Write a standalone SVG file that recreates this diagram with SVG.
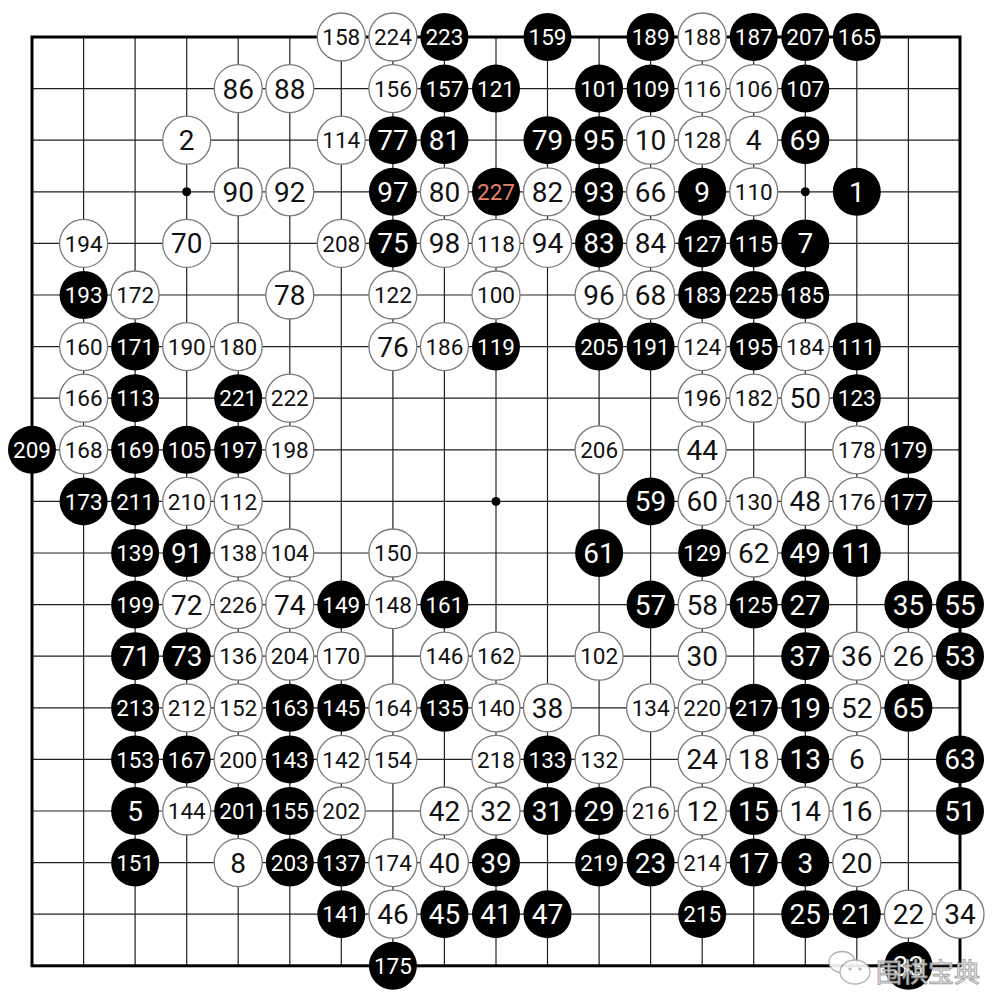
<svg xmlns="http://www.w3.org/2000/svg" width="999" height="996" viewBox="0 0 999 996">
<style>
.grid{stroke:#222;stroke-width:1.2;fill:none}
.frame{stroke:#000;stroke-width:3;fill:none}
.star{fill:#000}
g.b circle{fill:#000}
g.w circle{fill:#fff;stroke:#7a7a7a;stroke-width:1.3}
text{font-family:Roboto,"Liberation Sans",sans-serif;text-anchor:middle;font-size:28px}
g.b text{fill:#fff}
g.w text{fill:#111}
text.s{font-size:22.5px}
g.b text.red{fill:#e8806a}
.wm{font-family:"Noto Sans CJK SC","Noto Sans CJK TC",sans-serif;font-size:26px;fill:#fff;stroke:#999;stroke-width:1;text-anchor:start}
.bub{fill:#fff;stroke:#aaa;stroke-width:1.3}
</style>
<rect width="999" height="996" fill="#fff"/>
<g id="connectors">
<path class="grid" d="M83.6 37V965.8M135.1 37V965.8M186.7 37V965.8M238.2 37V965.8M289.8 37V965.8M341.3 37V965.8M392.9 37V965.8M444.4 37V965.8M496 37V965.8M547.5 37V965.8M599.1 37V965.8M650.6 37V965.8M702.2 37V965.8M753.7 37V965.8M805.3 37V965.8M856.8 37V965.8M908.4 37V965.8M32 88.6H960M32 140.2H960M32 191.8H960M32 243.4H960M32 295H960M32 346.6H960M32 398.2H960M32 449.8H960M32 501.4H960M32 553H960M32 604.6H960M32 656.2H960M32 707.8H960M32 759.4H960M32 811H960M32 862.6H960M32 914.2H960"/>
<rect class="frame" x="32" y="37" width="928" height="928.8"/>
<circle class="star" cx="186.7" cy="191.8" r="4.5"/>
<circle class="star" cx="805.3" cy="191.8" r="4.5"/>
<circle class="star" cx="496" cy="501.4" r="4.5"/>
</g>
<g id="stones">
<g id="m158" class="w" transform="translate(341.3,37)"><circle r="24"/><text class="s" dy="0.36em">158</text></g>
<g id="m224" class="w" transform="translate(392.9,37)"><circle r="24"/><text class="s" dy="0.36em">224</text></g>
<g id="m223" class="b" transform="translate(444.4,37)"><circle r="24"/><text class="s" dy="0.36em">223</text></g>
<g id="m159" class="b" transform="translate(547.5,37)"><circle r="24"/><text class="s" dy="0.36em">159</text></g>
<g id="m189" class="b" transform="translate(650.6,37)"><circle r="24"/><text class="s" dy="0.36em">189</text></g>
<g id="m188" class="w" transform="translate(702.2,37)"><circle r="24"/><text class="s" dy="0.36em">188</text></g>
<g id="m187" class="b" transform="translate(753.7,37)"><circle r="24"/><text class="s" dy="0.36em">187</text></g>
<g id="m207" class="b" transform="translate(805.3,37)"><circle r="24"/><text class="s" dy="0.36em">207</text></g>
<g id="m165" class="b" transform="translate(856.8,37)"><circle r="24"/><text class="s" dy="0.36em">165</text></g>
<g id="m86" class="w" transform="translate(238.2,88.6)"><circle r="24"/><text dy="0.36em">86</text></g>
<g id="m88" class="w" transform="translate(289.8,88.6)"><circle r="24"/><text dy="0.36em">88</text></g>
<g id="m156" class="w" transform="translate(392.9,88.6)"><circle r="24"/><text class="s" dy="0.36em">156</text></g>
<g id="m157" class="b" transform="translate(444.4,88.6)"><circle r="24"/><text class="s" dy="0.36em">157</text></g>
<g id="m121" class="b" transform="translate(496,88.6)"><circle r="24"/><text class="s" dy="0.36em">121</text></g>
<g id="m101" class="b" transform="translate(599.1,88.6)"><circle r="24"/><text class="s" dy="0.36em">101</text></g>
<g id="m109" class="b" transform="translate(650.6,88.6)"><circle r="24"/><text class="s" dy="0.36em">109</text></g>
<g id="m116" class="w" transform="translate(702.2,88.6)"><circle r="24"/><text class="s" dy="0.36em">116</text></g>
<g id="m106" class="w" transform="translate(753.7,88.6)"><circle r="24"/><text class="s" dy="0.36em">106</text></g>
<g id="m107" class="b" transform="translate(805.3,88.6)"><circle r="24"/><text class="s" dy="0.36em">107</text></g>
<g id="m2" class="w" transform="translate(186.7,140.2)"><circle r="24"/><text dy="0.36em">2</text></g>
<g id="m114" class="w" transform="translate(341.3,140.2)"><circle r="24"/><text class="s" dy="0.36em">114</text></g>
<g id="m77" class="b" transform="translate(392.9,140.2)"><circle r="24"/><text dy="0.36em">77</text></g>
<g id="m81" class="b" transform="translate(444.4,140.2)"><circle r="24"/><text dy="0.36em">81</text></g>
<g id="m79" class="b" transform="translate(547.5,140.2)"><circle r="24"/><text dy="0.36em">79</text></g>
<g id="m95" class="b" transform="translate(599.1,140.2)"><circle r="24"/><text dy="0.36em">95</text></g>
<g id="m10" class="w" transform="translate(650.6,140.2)"><circle r="24"/><text dy="0.36em">10</text></g>
<g id="m128" class="w" transform="translate(702.2,140.2)"><circle r="24"/><text class="s" dy="0.36em">128</text></g>
<g id="m4" class="w" transform="translate(753.7,140.2)"><circle r="24"/><text dy="0.36em">4</text></g>
<g id="m69" class="b" transform="translate(805.3,140.2)"><circle r="24"/><text dy="0.36em">69</text></g>
<g id="m90" class="w" transform="translate(238.2,191.8)"><circle r="24"/><text dy="0.36em">90</text></g>
<g id="m92" class="w" transform="translate(289.8,191.8)"><circle r="24"/><text dy="0.36em">92</text></g>
<g id="m97" class="b" transform="translate(392.9,191.8)"><circle r="24"/><text dy="0.36em">97</text></g>
<g id="m80" class="w" transform="translate(444.4,191.8)"><circle r="24"/><text dy="0.36em">80</text></g>
<g id="m227" class="b" transform="translate(496,191.8)"><circle r="24"/><text class="s red" dy="0.36em">227</text></g>
<g id="m82" class="w" transform="translate(547.5,191.8)"><circle r="24"/><text dy="0.36em">82</text></g>
<g id="m93" class="b" transform="translate(599.1,191.8)"><circle r="24"/><text dy="0.36em">93</text></g>
<g id="m66" class="w" transform="translate(650.6,191.8)"><circle r="24"/><text dy="0.36em">66</text></g>
<g id="m9" class="b" transform="translate(702.2,191.8)"><circle r="24"/><text dy="0.36em">9</text></g>
<g id="m110" class="w" transform="translate(753.7,191.8)"><circle r="24"/><text class="s" dy="0.36em">110</text></g>
<g id="m1" class="b" transform="translate(856.8,191.8)"><circle r="24"/><text dy="0.36em">1</text></g>
<g id="m194" class="w" transform="translate(83.6,243.4)"><circle r="24"/><text class="s" dy="0.36em">194</text></g>
<g id="m70" class="w" transform="translate(186.7,243.4)"><circle r="24"/><text dy="0.36em">70</text></g>
<g id="m208" class="w" transform="translate(341.3,243.4)"><circle r="24"/><text class="s" dy="0.36em">208</text></g>
<g id="m75" class="b" transform="translate(392.9,243.4)"><circle r="24"/><text dy="0.36em">75</text></g>
<g id="m98" class="w" transform="translate(444.4,243.4)"><circle r="24"/><text dy="0.36em">98</text></g>
<g id="m118" class="w" transform="translate(496,243.4)"><circle r="24"/><text class="s" dy="0.36em">118</text></g>
<g id="m94" class="w" transform="translate(547.5,243.4)"><circle r="24"/><text dy="0.36em">94</text></g>
<g id="m83" class="b" transform="translate(599.1,243.4)"><circle r="24"/><text dy="0.36em">83</text></g>
<g id="m84" class="w" transform="translate(650.6,243.4)"><circle r="24"/><text dy="0.36em">84</text></g>
<g id="m127" class="b" transform="translate(702.2,243.4)"><circle r="24"/><text class="s" dy="0.36em">127</text></g>
<g id="m115" class="b" transform="translate(753.7,243.4)"><circle r="24"/><text class="s" dy="0.36em">115</text></g>
<g id="m7" class="b" transform="translate(805.3,243.4)"><circle r="24"/><text dy="0.36em">7</text></g>
<g id="m193" class="b" transform="translate(83.6,295)"><circle r="24"/><text class="s" dy="0.36em">193</text></g>
<g id="m172" class="w" transform="translate(135.1,295)"><circle r="24"/><text class="s" dy="0.36em">172</text></g>
<g id="m78" class="w" transform="translate(289.8,295)"><circle r="24"/><text dy="0.36em">78</text></g>
<g id="m122" class="w" transform="translate(392.9,295)"><circle r="24"/><text class="s" dy="0.36em">122</text></g>
<g id="m100" class="w" transform="translate(496,295)"><circle r="24"/><text class="s" dy="0.36em">100</text></g>
<g id="m96" class="w" transform="translate(599.1,295)"><circle r="24"/><text dy="0.36em">96</text></g>
<g id="m68" class="w" transform="translate(650.6,295)"><circle r="24"/><text dy="0.36em">68</text></g>
<g id="m183" class="b" transform="translate(702.2,295)"><circle r="24"/><text class="s" dy="0.36em">183</text></g>
<g id="m225" class="b" transform="translate(753.7,295)"><circle r="24"/><text class="s" dy="0.36em">225</text></g>
<g id="m185" class="b" transform="translate(805.3,295)"><circle r="24"/><text class="s" dy="0.36em">185</text></g>
<g id="m160" class="w" transform="translate(83.6,346.6)"><circle r="24"/><text class="s" dy="0.36em">160</text></g>
<g id="m171" class="b" transform="translate(135.1,346.6)"><circle r="24"/><text class="s" dy="0.36em">171</text></g>
<g id="m190" class="w" transform="translate(186.7,346.6)"><circle r="24"/><text class="s" dy="0.36em">190</text></g>
<g id="m180" class="w" transform="translate(238.2,346.6)"><circle r="24"/><text class="s" dy="0.36em">180</text></g>
<g id="m76" class="w" transform="translate(392.9,346.6)"><circle r="24"/><text dy="0.36em">76</text></g>
<g id="m186" class="w" transform="translate(444.4,346.6)"><circle r="24"/><text class="s" dy="0.36em">186</text></g>
<g id="m119" class="b" transform="translate(496,346.6)"><circle r="24"/><text class="s" dy="0.36em">119</text></g>
<g id="m205" class="b" transform="translate(599.1,346.6)"><circle r="24"/><text class="s" dy="0.36em">205</text></g>
<g id="m191" class="b" transform="translate(650.6,346.6)"><circle r="24"/><text class="s" dy="0.36em">191</text></g>
<g id="m124" class="w" transform="translate(702.2,346.6)"><circle r="24"/><text class="s" dy="0.36em">124</text></g>
<g id="m195" class="b" transform="translate(753.7,346.6)"><circle r="24"/><text class="s" dy="0.36em">195</text></g>
<g id="m184" class="w" transform="translate(805.3,346.6)"><circle r="24"/><text class="s" dy="0.36em">184</text></g>
<g id="m111" class="b" transform="translate(856.8,346.6)"><circle r="24"/><text class="s" dy="0.36em">111</text></g>
<g id="m166" class="w" transform="translate(83.6,398.2)"><circle r="24"/><text class="s" dy="0.36em">166</text></g>
<g id="m113" class="b" transform="translate(135.1,398.2)"><circle r="24"/><text class="s" dy="0.36em">113</text></g>
<g id="m221" class="b" transform="translate(238.2,398.2)"><circle r="24"/><text class="s" dy="0.36em">221</text></g>
<g id="m222" class="w" transform="translate(289.8,398.2)"><circle r="24"/><text class="s" dy="0.36em">222</text></g>
<g id="m196" class="w" transform="translate(702.2,398.2)"><circle r="24"/><text class="s" dy="0.36em">196</text></g>
<g id="m182" class="w" transform="translate(753.7,398.2)"><circle r="24"/><text class="s" dy="0.36em">182</text></g>
<g id="m50" class="w" transform="translate(805.3,398.2)"><circle r="24"/><text dy="0.36em">50</text></g>
<g id="m123" class="b" transform="translate(856.8,398.2)"><circle r="24"/><text class="s" dy="0.36em">123</text></g>
<g id="m209" class="b" transform="translate(32,449.8)"><circle r="24"/><text class="s" dy="0.36em">209</text></g>
<g id="m168" class="w" transform="translate(83.6,449.8)"><circle r="24"/><text class="s" dy="0.36em">168</text></g>
<g id="m169" class="b" transform="translate(135.1,449.8)"><circle r="24"/><text class="s" dy="0.36em">169</text></g>
<g id="m105" class="b" transform="translate(186.7,449.8)"><circle r="24"/><text class="s" dy="0.36em">105</text></g>
<g id="m197" class="b" transform="translate(238.2,449.8)"><circle r="24"/><text class="s" dy="0.36em">197</text></g>
<g id="m198" class="w" transform="translate(289.8,449.8)"><circle r="24"/><text class="s" dy="0.36em">198</text></g>
<g id="m206" class="w" transform="translate(599.1,449.8)"><circle r="24"/><text class="s" dy="0.36em">206</text></g>
<g id="m44" class="w" transform="translate(702.2,449.8)"><circle r="24"/><text dy="0.36em">44</text></g>
<g id="m178" class="w" transform="translate(856.8,449.8)"><circle r="24"/><text class="s" dy="0.36em">178</text></g>
<g id="m179" class="b" transform="translate(908.4,449.8)"><circle r="24"/><text class="s" dy="0.36em">179</text></g>
<g id="m173" class="b" transform="translate(83.6,501.4)"><circle r="24"/><text class="s" dy="0.36em">173</text></g>
<g id="m211" class="b" transform="translate(135.1,501.4)"><circle r="24"/><text class="s" dy="0.36em">211</text></g>
<g id="m210" class="w" transform="translate(186.7,501.4)"><circle r="24"/><text class="s" dy="0.36em">210</text></g>
<g id="m112" class="w" transform="translate(238.2,501.4)"><circle r="24"/><text class="s" dy="0.36em">112</text></g>
<g id="m59" class="b" transform="translate(650.6,501.4)"><circle r="24"/><text dy="0.36em">59</text></g>
<g id="m60" class="w" transform="translate(702.2,501.4)"><circle r="24"/><text dy="0.36em">60</text></g>
<g id="m130" class="w" transform="translate(753.7,501.4)"><circle r="24"/><text class="s" dy="0.36em">130</text></g>
<g id="m48" class="w" transform="translate(805.3,501.4)"><circle r="24"/><text dy="0.36em">48</text></g>
<g id="m176" class="w" transform="translate(856.8,501.4)"><circle r="24"/><text class="s" dy="0.36em">176</text></g>
<g id="m177" class="b" transform="translate(908.4,501.4)"><circle r="24"/><text class="s" dy="0.36em">177</text></g>
<g id="m139" class="b" transform="translate(135.1,553)"><circle r="24"/><text class="s" dy="0.36em">139</text></g>
<g id="m91" class="b" transform="translate(186.7,553)"><circle r="24"/><text dy="0.36em">91</text></g>
<g id="m138" class="w" transform="translate(238.2,553)"><circle r="24"/><text class="s" dy="0.36em">138</text></g>
<g id="m104" class="w" transform="translate(289.8,553)"><circle r="24"/><text class="s" dy="0.36em">104</text></g>
<g id="m150" class="w" transform="translate(392.9,553)"><circle r="24"/><text class="s" dy="0.36em">150</text></g>
<g id="m61" class="b" transform="translate(599.1,553)"><circle r="24"/><text dy="0.36em">61</text></g>
<g id="m129" class="b" transform="translate(702.2,553)"><circle r="24"/><text class="s" dy="0.36em">129</text></g>
<g id="m62" class="w" transform="translate(753.7,553)"><circle r="24"/><text dy="0.36em">62</text></g>
<g id="m49" class="b" transform="translate(805.3,553)"><circle r="24"/><text dy="0.36em">49</text></g>
<g id="m11" class="b" transform="translate(856.8,553)"><circle r="24"/><text dy="0.36em">11</text></g>
<g id="m199" class="b" transform="translate(135.1,604.6)"><circle r="24"/><text class="s" dy="0.36em">199</text></g>
<g id="m72" class="w" transform="translate(186.7,604.6)"><circle r="24"/><text dy="0.36em">72</text></g>
<g id="m226" class="w" transform="translate(238.2,604.6)"><circle r="24"/><text class="s" dy="0.36em">226</text></g>
<g id="m74" class="w" transform="translate(289.8,604.6)"><circle r="24"/><text dy="0.36em">74</text></g>
<g id="m149" class="b" transform="translate(341.3,604.6)"><circle r="24"/><text class="s" dy="0.36em">149</text></g>
<g id="m148" class="w" transform="translate(392.9,604.6)"><circle r="24"/><text class="s" dy="0.36em">148</text></g>
<g id="m161" class="b" transform="translate(444.4,604.6)"><circle r="24"/><text class="s" dy="0.36em">161</text></g>
<g id="m57" class="b" transform="translate(650.6,604.6)"><circle r="24"/><text dy="0.36em">57</text></g>
<g id="m58" class="w" transform="translate(702.2,604.6)"><circle r="24"/><text dy="0.36em">58</text></g>
<g id="m125" class="b" transform="translate(753.7,604.6)"><circle r="24"/><text class="s" dy="0.36em">125</text></g>
<g id="m27" class="b" transform="translate(805.3,604.6)"><circle r="24"/><text dy="0.36em">27</text></g>
<g id="m35" class="b" transform="translate(908.4,604.6)"><circle r="24"/><text dy="0.36em">35</text></g>
<g id="m55" class="b" transform="translate(960,604.6)"><circle r="24"/><text dy="0.36em">55</text></g>
<g id="m71" class="b" transform="translate(135.1,656.2)"><circle r="24"/><text dy="0.36em">71</text></g>
<g id="m73" class="b" transform="translate(186.7,656.2)"><circle r="24"/><text dy="0.36em">73</text></g>
<g id="m136" class="w" transform="translate(238.2,656.2)"><circle r="24"/><text class="s" dy="0.36em">136</text></g>
<g id="m204" class="w" transform="translate(289.8,656.2)"><circle r="24"/><text class="s" dy="0.36em">204</text></g>
<g id="m170" class="w" transform="translate(341.3,656.2)"><circle r="24"/><text class="s" dy="0.36em">170</text></g>
<g id="m146" class="w" transform="translate(444.4,656.2)"><circle r="24"/><text class="s" dy="0.36em">146</text></g>
<g id="m162" class="w" transform="translate(496,656.2)"><circle r="24"/><text class="s" dy="0.36em">162</text></g>
<g id="m102" class="w" transform="translate(599.1,656.2)"><circle r="24"/><text class="s" dy="0.36em">102</text></g>
<g id="m30" class="w" transform="translate(702.2,656.2)"><circle r="24"/><text dy="0.36em">30</text></g>
<g id="m37" class="b" transform="translate(805.3,656.2)"><circle r="24"/><text dy="0.36em">37</text></g>
<g id="m36" class="w" transform="translate(856.8,656.2)"><circle r="24"/><text dy="0.36em">36</text></g>
<g id="m26" class="w" transform="translate(908.4,656.2)"><circle r="24"/><text dy="0.36em">26</text></g>
<g id="m53" class="b" transform="translate(960,656.2)"><circle r="24"/><text dy="0.36em">53</text></g>
<g id="m213" class="b" transform="translate(135.1,707.8)"><circle r="24"/><text class="s" dy="0.36em">213</text></g>
<g id="m212" class="w" transform="translate(186.7,707.8)"><circle r="24"/><text class="s" dy="0.36em">212</text></g>
<g id="m152" class="w" transform="translate(238.2,707.8)"><circle r="24"/><text class="s" dy="0.36em">152</text></g>
<g id="m163" class="b" transform="translate(289.8,707.8)"><circle r="24"/><text class="s" dy="0.36em">163</text></g>
<g id="m145" class="b" transform="translate(341.3,707.8)"><circle r="24"/><text class="s" dy="0.36em">145</text></g>
<g id="m164" class="w" transform="translate(392.9,707.8)"><circle r="24"/><text class="s" dy="0.36em">164</text></g>
<g id="m135" class="b" transform="translate(444.4,707.8)"><circle r="24"/><text class="s" dy="0.36em">135</text></g>
<g id="m140" class="w" transform="translate(496,707.8)"><circle r="24"/><text class="s" dy="0.36em">140</text></g>
<g id="m38" class="w" transform="translate(547.5,707.8)"><circle r="24"/><text dy="0.36em">38</text></g>
<g id="m134" class="w" transform="translate(650.6,707.8)"><circle r="24"/><text class="s" dy="0.36em">134</text></g>
<g id="m220" class="w" transform="translate(702.2,707.8)"><circle r="24"/><text class="s" dy="0.36em">220</text></g>
<g id="m217" class="b" transform="translate(753.7,707.8)"><circle r="24"/><text class="s" dy="0.36em">217</text></g>
<g id="m19" class="b" transform="translate(805.3,707.8)"><circle r="24"/><text dy="0.36em">19</text></g>
<g id="m52" class="w" transform="translate(856.8,707.8)"><circle r="24"/><text dy="0.36em">52</text></g>
<g id="m65" class="b" transform="translate(908.4,707.8)"><circle r="24"/><text dy="0.36em">65</text></g>
<g id="m153" class="b" transform="translate(135.1,759.4)"><circle r="24"/><text class="s" dy="0.36em">153</text></g>
<g id="m167" class="b" transform="translate(186.7,759.4)"><circle r="24"/><text class="s" dy="0.36em">167</text></g>
<g id="m200" class="w" transform="translate(238.2,759.4)"><circle r="24"/><text class="s" dy="0.36em">200</text></g>
<g id="m143" class="b" transform="translate(289.8,759.4)"><circle r="24"/><text class="s" dy="0.36em">143</text></g>
<g id="m142" class="w" transform="translate(341.3,759.4)"><circle r="24"/><text class="s" dy="0.36em">142</text></g>
<g id="m154" class="w" transform="translate(392.9,759.4)"><circle r="24"/><text class="s" dy="0.36em">154</text></g>
<g id="m218" class="w" transform="translate(496,759.4)"><circle r="24"/><text class="s" dy="0.36em">218</text></g>
<g id="m133" class="b" transform="translate(547.5,759.4)"><circle r="24"/><text class="s" dy="0.36em">133</text></g>
<g id="m132" class="w" transform="translate(599.1,759.4)"><circle r="24"/><text class="s" dy="0.36em">132</text></g>
<g id="m24" class="w" transform="translate(702.2,759.4)"><circle r="24"/><text dy="0.36em">24</text></g>
<g id="m18" class="w" transform="translate(753.7,759.4)"><circle r="24"/><text dy="0.36em">18</text></g>
<g id="m13" class="b" transform="translate(805.3,759.4)"><circle r="24"/><text dy="0.36em">13</text></g>
<g id="m6" class="w" transform="translate(856.8,759.4)"><circle r="24"/><text dy="0.36em">6</text></g>
<g id="m63" class="b" transform="translate(960,759.4)"><circle r="24"/><text dy="0.36em">63</text></g>
<g id="m5" class="b" transform="translate(135.1,811)"><circle r="24"/><text dy="0.36em">5</text></g>
<g id="m144" class="w" transform="translate(186.7,811)"><circle r="24"/><text class="s" dy="0.36em">144</text></g>
<g id="m201" class="b" transform="translate(238.2,811)"><circle r="24"/><text class="s" dy="0.36em">201</text></g>
<g id="m155" class="b" transform="translate(289.8,811)"><circle r="24"/><text class="s" dy="0.36em">155</text></g>
<g id="m202" class="w" transform="translate(341.3,811)"><circle r="24"/><text class="s" dy="0.36em">202</text></g>
<g id="m42" class="w" transform="translate(444.4,811)"><circle r="24"/><text dy="0.36em">42</text></g>
<g id="m32" class="w" transform="translate(496,811)"><circle r="24"/><text dy="0.36em">32</text></g>
<g id="m31" class="b" transform="translate(547.5,811)"><circle r="24"/><text dy="0.36em">31</text></g>
<g id="m29" class="b" transform="translate(599.1,811)"><circle r="24"/><text dy="0.36em">29</text></g>
<g id="m216" class="w" transform="translate(650.6,811)"><circle r="24"/><text class="s" dy="0.36em">216</text></g>
<g id="m12" class="w" transform="translate(702.2,811)"><circle r="24"/><text dy="0.36em">12</text></g>
<g id="m15" class="b" transform="translate(753.7,811)"><circle r="24"/><text dy="0.36em">15</text></g>
<g id="m14" class="w" transform="translate(805.3,811)"><circle r="24"/><text dy="0.36em">14</text></g>
<g id="m16" class="w" transform="translate(856.8,811)"><circle r="24"/><text dy="0.36em">16</text></g>
<g id="m51" class="b" transform="translate(960,811)"><circle r="24"/><text dy="0.36em">51</text></g>
<g id="m151" class="b" transform="translate(135.1,862.6)"><circle r="24"/><text class="s" dy="0.36em">151</text></g>
<g id="m8" class="w" transform="translate(238.2,862.6)"><circle r="24"/><text dy="0.36em">8</text></g>
<g id="m203" class="b" transform="translate(289.8,862.6)"><circle r="24"/><text class="s" dy="0.36em">203</text></g>
<g id="m137" class="b" transform="translate(341.3,862.6)"><circle r="24"/><text class="s" dy="0.36em">137</text></g>
<g id="m174" class="w" transform="translate(392.9,862.6)"><circle r="24"/><text class="s" dy="0.36em">174</text></g>
<g id="m40" class="w" transform="translate(444.4,862.6)"><circle r="24"/><text dy="0.36em">40</text></g>
<g id="m39" class="b" transform="translate(496,862.6)"><circle r="24"/><text dy="0.36em">39</text></g>
<g id="m219" class="b" transform="translate(599.1,862.6)"><circle r="24"/><text class="s" dy="0.36em">219</text></g>
<g id="m23" class="b" transform="translate(650.6,862.6)"><circle r="24"/><text dy="0.36em">23</text></g>
<g id="m214" class="w" transform="translate(702.2,862.6)"><circle r="24"/><text class="s" dy="0.36em">214</text></g>
<g id="m17" class="b" transform="translate(753.7,862.6)"><circle r="24"/><text dy="0.36em">17</text></g>
<g id="m3" class="b" transform="translate(805.3,862.6)"><circle r="24"/><text dy="0.36em">3</text></g>
<g id="m20" class="w" transform="translate(856.8,862.6)"><circle r="24"/><text dy="0.36em">20</text></g>
<g id="m141" class="b" transform="translate(341.3,914.2)"><circle r="24"/><text class="s" dy="0.36em">141</text></g>
<g id="m46" class="w" transform="translate(392.9,914.2)"><circle r="24"/><text dy="0.36em">46</text></g>
<g id="m45" class="b" transform="translate(444.4,914.2)"><circle r="24"/><text dy="0.36em">45</text></g>
<g id="m41" class="b" transform="translate(496,914.2)"><circle r="24"/><text dy="0.36em">41</text></g>
<g id="m47" class="b" transform="translate(547.5,914.2)"><circle r="24"/><text dy="0.36em">47</text></g>
<g id="m215" class="b" transform="translate(702.2,914.2)"><circle r="24"/><text class="s" dy="0.36em">215</text></g>
<g id="m25" class="b" transform="translate(805.3,914.2)"><circle r="24"/><text dy="0.36em">25</text></g>
<g id="m21" class="b" transform="translate(856.8,914.2)"><circle r="24"/><text dy="0.36em">21</text></g>
<g id="m22" class="w" transform="translate(908.4,914.2)"><circle r="24"/><text dy="0.36em">22</text></g>
<g id="m34" class="w" transform="translate(960,914.2)"><circle r="24"/><text dy="0.36em">34</text></g>
<g id="m175" class="b" transform="translate(392.9,965.8)"><circle r="24"/><text class="s" dy="0.36em">175</text></g>
<g id="m33" class="b" transform="translate(908.4,965.8)"><circle r="24"/><text dy="0.36em">33</text></g>
</g>
<g id="watermark" opacity="0.9">
<ellipse class="bub" cx="842" cy="962" rx="13" ry="10.5"/>
<ellipse class="bub" cx="855" cy="972" rx="15" ry="12"/>
<circle cx="850" cy="969" r="1.5" fill="#aaa"/>
<circle cx="860" cy="969" r="1.5" fill="#aaa"/>
<text class="wm" x="876" y="982">围棋宝典</text>
</g>
</svg>
